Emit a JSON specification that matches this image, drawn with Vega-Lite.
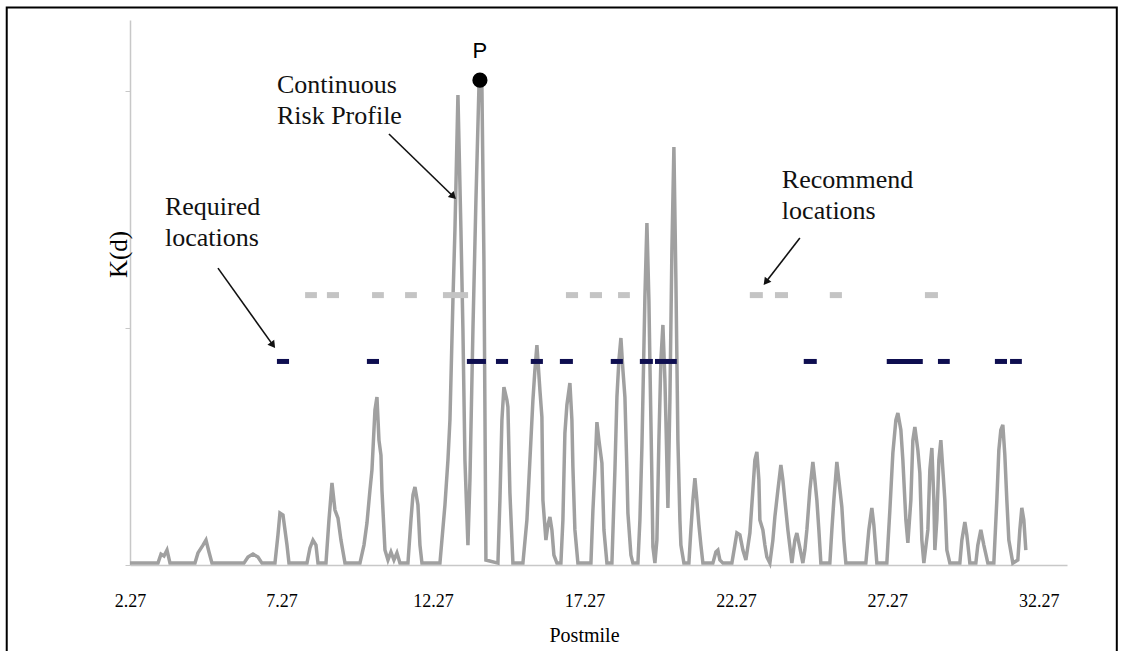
{
  "$schema": "https://vega.github.io/schema/vega-lite/v6.json",
  "width": 937,
  "height": 545,
  "autosize": "none",
  "padding": {"left": 130, "top": 20, "right": 60, "bottom": 86},
  "background": "white",
  "config": {"view": {"stroke": null}, "font": "Liberation Serif"},
  "datasets": {
    "profile": [
      {"pm":2.270,"k":0.008},{"pm":3.194,"k":0.008},{"pm":3.293,"k":0.046},{"pm":3.392,"k":0.038},{"pm":3.491,"k":0.063},{"pm":3.590,"k":0.008},
      {"pm":4.415,"k":0.008},{"pm":4.514,"k":0.051},{"pm":4.679,"k":0.084},{"pm":4.778,"k":0.105},{"pm":4.877,"k":0.055},{"pm":4.976,"k":0.008},
      {"pm":6.032,"k":0.008},{"pm":6.164,"k":0.034},{"pm":6.329,"k":0.046},{"pm":6.494,"k":0.034},{"pm":6.626,"k":0.008},
      {"pm":7.055,"k":0.008},{"pm":7.154,"k":0.127},{"pm":7.220,"k":0.219},{"pm":7.320,"k":0.211},{"pm":7.386,"k":0.148},{"pm":7.452,"k":0.084},{"pm":7.518,"k":0.008},
      {"pm":8.112,"k":0.008},{"pm":8.211,"k":0.072},{"pm":8.310,"k":0.105},{"pm":8.409,"k":0.084},{"pm":8.475,"k":0.008},
      {"pm":8.739,"k":0.008},{"pm":8.838,"k":0.190},{"pm":8.937,"k":0.346},{"pm":9.036,"k":0.232},{"pm":9.135,"k":0.198},{"pm":9.234,"k":0.105},{"pm":9.366,"k":0.008},
      {"pm":9.861,"k":0.008},{"pm":9.993,"k":0.084},{"pm":10.092,"k":0.177},{"pm":10.191,"k":0.316},{"pm":10.257,"k":0.401},{"pm":10.356,"k":0.654},{"pm":10.422,"k":0.709},{"pm":10.488,"k":0.527},{"pm":10.554,"k":0.464},{"pm":10.587,"k":0.316},{"pm":10.686,"k":0.063},{"pm":10.785,"k":0.021},{"pm":10.884,"k":0.055},{"pm":10.983,"k":0.021},{"pm":11.082,"k":0.051},{"pm":11.181,"k":0.008},
      {"pm":11.445,"k":0.008},{"pm":11.544,"k":0.190},{"pm":11.610,"k":0.295},{"pm":11.676,"k":0.329},{"pm":11.775,"k":0.253},{"pm":11.841,"k":0.084},{"pm":11.907,"k":0.008},
      {"pm":12.501,"k":0.008},{"pm":12.666,"k":0.253},{"pm":12.765,"k":0.443},{"pm":12.831,"k":0.612},{"pm":12.930,"k":1.118},{"pm":12.996,"k":1.414},{"pm":13.095,"k":1.983},{"pm":13.194,"k":1.414},{"pm":13.260,"k":0.992},{"pm":13.326,"k":0.443},{"pm":13.425,"k":0.084},{"pm":13.491,"k":0.359},{"pm":13.590,"k":0.992},{"pm":13.689,"k":1.540},{"pm":13.788,"k":2.013},{"pm":13.887,"k":2.013},{"pm":13.953,"k":1.287},{"pm":14.019,"k":0.021},
      {"pm":14.415,"k":0.008},{"pm":14.481,"k":0.274},{"pm":14.547,"k":0.612},{"pm":14.613,"k":0.751},{"pm":14.712,"k":0.696},{"pm":14.745,"k":0.667},{"pm":14.811,"k":0.304},{"pm":14.910,"k":0.008},
      {"pm":15.240,"k":0.008},{"pm":15.372,"k":0.190},{"pm":15.471,"k":0.443},{"pm":15.570,"k":0.696},{"pm":15.636,"k":0.823},{"pm":15.702,"k":0.928},{"pm":15.801,"k":0.738},{"pm":15.867,"k":0.624},{"pm":15.900,"k":0.274},{"pm":15.999,"k":0.105},{"pm":16.065,"k":0.169},{"pm":16.131,"k":0.203},{"pm":16.197,"k":0.148},{"pm":16.263,"k":0.042},{"pm":16.362,"k":0.008},
      {"pm":16.494,"k":0.008},{"pm":16.560,"k":0.190},{"pm":16.626,"k":0.557},{"pm":16.692,"k":0.675},{"pm":16.791,"k":0.768},{"pm":16.857,"k":0.612},{"pm":16.890,"k":0.414},{"pm":16.956,"k":0.148},{"pm":17.055,"k":0.008},
      {"pm":17.485,"k":0.008},{"pm":17.551,"k":0.232},{"pm":17.617,"k":0.401},{"pm":17.683,"k":0.603},{"pm":17.749,"k":0.527},{"pm":17.848,"k":0.430},{"pm":17.914,"k":0.148},{"pm":18.013,"k":0.008},
      {"pm":18.178,"k":0.008},{"pm":18.277,"k":0.401},{"pm":18.343,"k":0.709},{"pm":18.409,"k":0.865},{"pm":18.475,"k":0.958},{"pm":18.541,"k":0.823},{"pm":18.607,"k":0.709},{"pm":18.673,"k":0.401},{"pm":18.706,"k":0.219},{"pm":18.805,"k":0.042},{"pm":18.871,"k":0.008},
      {"pm":19.036,"k":0.008},{"pm":19.102,"k":0.190},{"pm":19.168,"k":0.498},{"pm":19.267,"k":1.131},{"pm":19.333,"k":1.443},{"pm":19.399,"k":1.118},{"pm":19.432,"k":0.852},{"pm":19.498,"k":0.359},{"pm":19.531,"k":0.076},{"pm":19.597,"k":0.008},
      {"pm":19.663,"k":0.105},{"pm":19.729,"k":0.527},{"pm":19.795,"k":0.865},{"pm":19.861,"k":1.013},{"pm":19.927,"k":0.781},{"pm":19.960,"k":0.612},{"pm":20.026,"k":0.241},{"pm":20.092,"k":0.696},{"pm":20.158,"k":1.329},{"pm":20.224,"k":1.764},{"pm":20.290,"k":1.203},{"pm":20.356,"k":0.527},{"pm":20.422,"k":0.190},{"pm":20.455,"k":0.084},{"pm":20.554,"k":0.008},
      {"pm":20.719,"k":0.008},{"pm":20.785,"k":0.148},{"pm":20.851,"k":0.274},{"pm":20.917,"k":0.367},{"pm":20.983,"k":0.274},{"pm":21.049,"k":0.169},{"pm":21.115,"k":0.084},{"pm":21.181,"k":0.008},
      {"pm":21.511,"k":0.008},{"pm":21.610,"k":0.055},{"pm":21.676,"k":0.063},{"pm":21.742,"k":0.021},{"pm":21.841,"k":0.008},
      {"pm":22.138,"k":0.008},{"pm":22.237,"k":0.084},{"pm":22.303,"k":0.135},{"pm":22.402,"k":0.127},{"pm":22.501,"k":0.063},{"pm":22.600,"k":0.021},{"pm":22.732,"k":0.135},{"pm":22.831,"k":0.316},{"pm":22.897,"k":0.443},{"pm":22.963,"k":0.477},{"pm":23.029,"k":0.359},{"pm":23.062,"k":0.190},{"pm":23.161,"k":0.148},{"pm":23.227,"k":0.084},{"pm":23.293,"k":0.034},{"pm":23.392,"k":0.008},
      {"pm":23.491,"k":0.105},{"pm":23.557,"k":0.203},{"pm":23.656,"k":0.316},{"pm":23.755,"k":0.422},{"pm":23.821,"k":0.359},{"pm":23.887,"k":0.274},{"pm":23.986,"k":0.148},{"pm":24.118,"k":0.008},
      {"pm":24.217,"k":0.105},{"pm":24.283,"k":0.135},{"pm":24.382,"k":0.072},{"pm":24.481,"k":0.008},
      {"pm":24.547,"k":0.063},{"pm":24.613,"k":0.148},{"pm":24.712,"k":0.316},{"pm":24.811,"k":0.435},{"pm":24.877,"k":0.359},{"pm":24.943,"k":0.274},{"pm":25.009,"k":0.148},{"pm":25.075,"k":0.008},
      {"pm":25.372,"k":0.008},{"pm":25.438,"k":0.148},{"pm":25.504,"k":0.274},{"pm":25.603,"k":0.435},{"pm":25.669,"k":0.359},{"pm":25.768,"k":0.245},{"pm":25.834,"k":0.105},{"pm":25.900,"k":0.008},
      {"pm":26.560,"k":0.008},{"pm":26.659,"k":0.148},{"pm":26.758,"k":0.241},{"pm":26.824,"k":0.169},{"pm":26.923,"k":0.008},
      {"pm":27.253,"k":0.008},{"pm":27.353,"k":0.232},{"pm":27.452,"k":0.473},{"pm":27.551,"k":0.612},{"pm":27.617,"k":0.641},{"pm":27.716,"k":0.570},{"pm":27.782,"k":0.443},{"pm":27.881,"k":0.190},{"pm":27.947,"k":0.093},{"pm":28.046,"k":0.274},{"pm":28.112,"k":0.527},{"pm":28.178,"k":0.582},{"pm":28.277,"k":0.485},{"pm":28.343,"k":0.388},{"pm":28.409,"k":0.105},{"pm":28.475,"k":0.008},
      {"pm":28.607,"k":0.148},{"pm":28.673,"k":0.401},{"pm":28.739,"k":0.494},{"pm":28.805,"k":0.274},{"pm":28.838,"k":0.063},{"pm":28.904,"k":0.190},{"pm":28.970,"k":0.443},{"pm":29.036,"k":0.527},{"pm":29.102,"k":0.401},{"pm":29.168,"k":0.274},{"pm":29.234,"k":0.063},{"pm":29.333,"k":0.008},
      {"pm":29.663,"k":0.008},{"pm":29.729,"k":0.105},{"pm":29.828,"k":0.181},{"pm":29.894,"k":0.127},{"pm":29.993,"k":0.008},
      {"pm":30.191,"k":0.008},{"pm":30.257,"k":0.084},{"pm":30.356,"k":0.148},{"pm":30.455,"k":0.084},{"pm":30.587,"k":0.008},
      {"pm":30.785,"k":0.008},{"pm":30.884,"k":0.274},{"pm":30.950,"k":0.485},{"pm":31.016,"k":0.570},{"pm":31.082,"k":0.591},{"pm":31.148,"k":0.464},{"pm":31.214,"k":0.274},{"pm":31.280,"k":0.105},{"pm":31.412,"k":0.008},
      {"pm":31.577,"k":0.021},{"pm":31.643,"k":0.148},{"pm":31.709,"k":0.241},{"pm":31.775,"k":0.190},{"pm":31.841,"k":0.063}
    ],
    "required": [
      {"start":7.12,"end":7.52},{"start":10.09,"end":10.49},{"start":13.39,"end":14.02},{"start":14.35,"end":14.75},
      {"start":15.50,"end":15.90},{"start":16.46,"end":16.89},{"start":18.14,"end":18.54},{"start":19.10,"end":19.53},
      {"start":19.60,"end":20.32},{"start":24.51,"end":24.94},{"start":27.25,"end":28.44},{"start":28.94,"end":29.33},
      {"start":30.82,"end":31.22},{"start":31.32,"end":31.71}
    ],
    "recommend": [
      {"start":8.05,"end":8.44},{"start":8.77,"end":9.17},{"start":10.26,"end":10.65},{"start":11.35,"end":11.74},
      {"start":12.60,"end":13.43},{"start":16.66,"end":17.06},{"start":17.45,"end":17.85},{"start":18.38,"end":18.77},
      {"start":22.73,"end":23.16},{"start":23.56,"end":23.99},{"start":25.37,"end":25.77},{"start":28.51,"end":28.94}
    ],
    "notes": [
      {"pm":7.121,"k":1.992,"label":"Continuous\nRisk Profile"},
      {"pm":3.425,"k":1.477,"label":"Required\nlocations"},
      {"pm":23.788,"k":1.591,"label":"Recommend\nlocations"}
    ],
    "arrows": [
      {"id":"a1","pm":10.818,"k":1.819,"pm2":12.943,"k2":1.555},
      {"id":"a2","pm":5.174,"k":1.253,"pm2":6.989,"k2":0.928},
      {"id":"a3","pm":24.382,"k":1.380,"pm2":23.26,"k2":1.194}
    ],
    "peak": [{"pm":13.821,"k":2.046,"label":"P"}]
  },
  "layer": [
    {
      "data": {"name": "profile"},
      "mark": {"type": "line", "color": "#a0a0a0", "strokeWidth": 3.5, "strokeJoin": "miter"},
      "encoding": {
        "x": {"field": "pm", "type": "quantitative",
          "scale": {"domain": [2.27, 33.2], "nice": false, "zero": false},
          "axis": {"title": "Postmile", "values": [2.27, 7.27, 12.27, 17.27, 22.27, 27.27, 32.27], "format": ".2f",
            "grid": false, "ticks": false, "tickSize": 0, "domainColor": "#c8c8c8", "domainWidth": 1.5,
            "labelFont": "Liberation Serif", "labelFontSize": 18, "labelColor": "#000", "labelBaseline": "alphabetic", "labelPadding": 41,
            "labelFlush": false, "labelOverlap": false,
            "titleFont": "Liberation Serif", "titleFontSize": 20, "titleFontWeight": "normal", "titleColor": "#000",
            "titleBaseline": "alphabetic", "titleX": 454, "titleY": 76, "titleAnchor": null}},
        "y": {"field": "k", "type": "quantitative",
          "scale": {"domain": [0, 2.3], "nice": false},
          "axis": {"title": "K(d)", "values": [0, 1, 2], "labels": false, "grid": false, "tickSize": 5, "tickColor": "#c8c8c8",
            "domainColor": "#c8c8c8", "domainWidth": 1.5,
            "titleFont": "Liberation Serif", "titleFontSize": 25, "titleFontWeight": "normal", "titleColor": "#000",
            "titleAngle": 270, "titleBaseline": "alphabetic", "titleAlign": "center", "titleX": -4, "titleY": 234}}
      }
    },
    {
      "data": {"name": "recommend"},
      "mark": {"type": "rule", "color": "#c4c4c4", "strokeWidth": 6, "strokeCap": "butt"},
      "encoding": {
        "x": {"field": "start", "type": "quantitative"},
        "x2": {"field": "end"},
        "y": {"datum": 1.139}
      }
    },
    {
      "data": {"name": "required"},
      "mark": {"type": "rule", "color": "#0e0e50", "strokeWidth": 5, "strokeCap": "butt"},
      "encoding": {
        "x": {"field": "start", "type": "quantitative"},
        "x2": {"field": "end"},
        "y": {"datum": 0.859}
      }
    },
    {
      "data": {"name": "arrows"},
      "mark": {"type": "rule", "color": "#111", "strokeWidth": 1.6},
      "encoding": {
        "x": {"field": "pm", "type": "quantitative"},
        "y": {"field": "k", "type": "quantitative"},
        "x2": {"field": "pm2"},
        "y2": {"field": "k2"}
      }
    },
    {
      "data": {"name": "arrows"},
      "transform": [{"filter": "datum.id == 'a1'"}],
      "mark": {"type": "point", "shape": "triangle-up", "filled": true, "color": "#111", "size": 70, "angle": 134, "opacity": 1},
      "encoding": {"x": {"field": "pm2", "type": "quantitative"}, "y": {"field": "k2", "type": "quantitative"}}
    },
    {
      "data": {"name": "arrows"},
      "transform": [{"filter": "datum.id == 'a2'"}],
      "mark": {"type": "point", "shape": "triangle-up", "filled": true, "color": "#111", "size": 70, "angle": 144, "opacity": 1},
      "encoding": {"x": {"field": "pm2", "type": "quantitative"}, "y": {"field": "k2", "type": "quantitative"}}
    },
    {
      "data": {"name": "arrows"},
      "transform": [{"filter": "datum.id == 'a3'"}],
      "mark": {"type": "point", "shape": "triangle-up", "filled": true, "color": "#111", "size": 70, "angle": 218, "opacity": 1},
      "encoding": {"x": {"field": "pm2", "type": "quantitative"}, "y": {"field": "k2", "type": "quantitative"}}
    },
    {
      "data": {"name": "notes"},
      "mark": {"type": "text", "align": "left", "baseline": "alphabetic", "font": "Liberation Serif", "fontSize": 26, "lineHeight": 31, "lineBreak": "\n", "color": "#111"},
      "encoding": {
        "x": {"field": "pm", "type": "quantitative"},
        "y": {"field": "k", "type": "quantitative"},
        "text": {"field": "label"}
      }
    },
    {
      "data": {"name": "peak"},
      "mark": {"type": "point", "shape": "circle", "filled": true, "color": "#000", "size": 230, "opacity": 1},
      "encoding": {
        "x": {"field": "pm", "type": "quantitative"},
        "y": {"field": "k", "type": "quantitative"}
      }
    },
    {
      "data": {"name": "peak"},
      "mark": {"type": "text", "align": "center", "baseline": "alphabetic", "font": "Liberation Sans", "fontSize": 22, "dy": -22, "color": "#000"},
      "encoding": {
        "x": {"field": "pm", "type": "quantitative"},
        "y": {"field": "k", "type": "quantitative"},
        "text": {"field": "label"}
      }
    },
    {
      "data": {"values": [{}]},
      "mark": {"type": "rect", "filled": false, "stroke": "#000", "strokeWidth": 2, "clip": false},
      "encoding": {
        "x": {"datum": -1.799},
        "x2": {"datum": 34.844},
        "y": {"datum": 2.353},
        "y2": {"datum": -1.5}
      }
    }
  ]
}
